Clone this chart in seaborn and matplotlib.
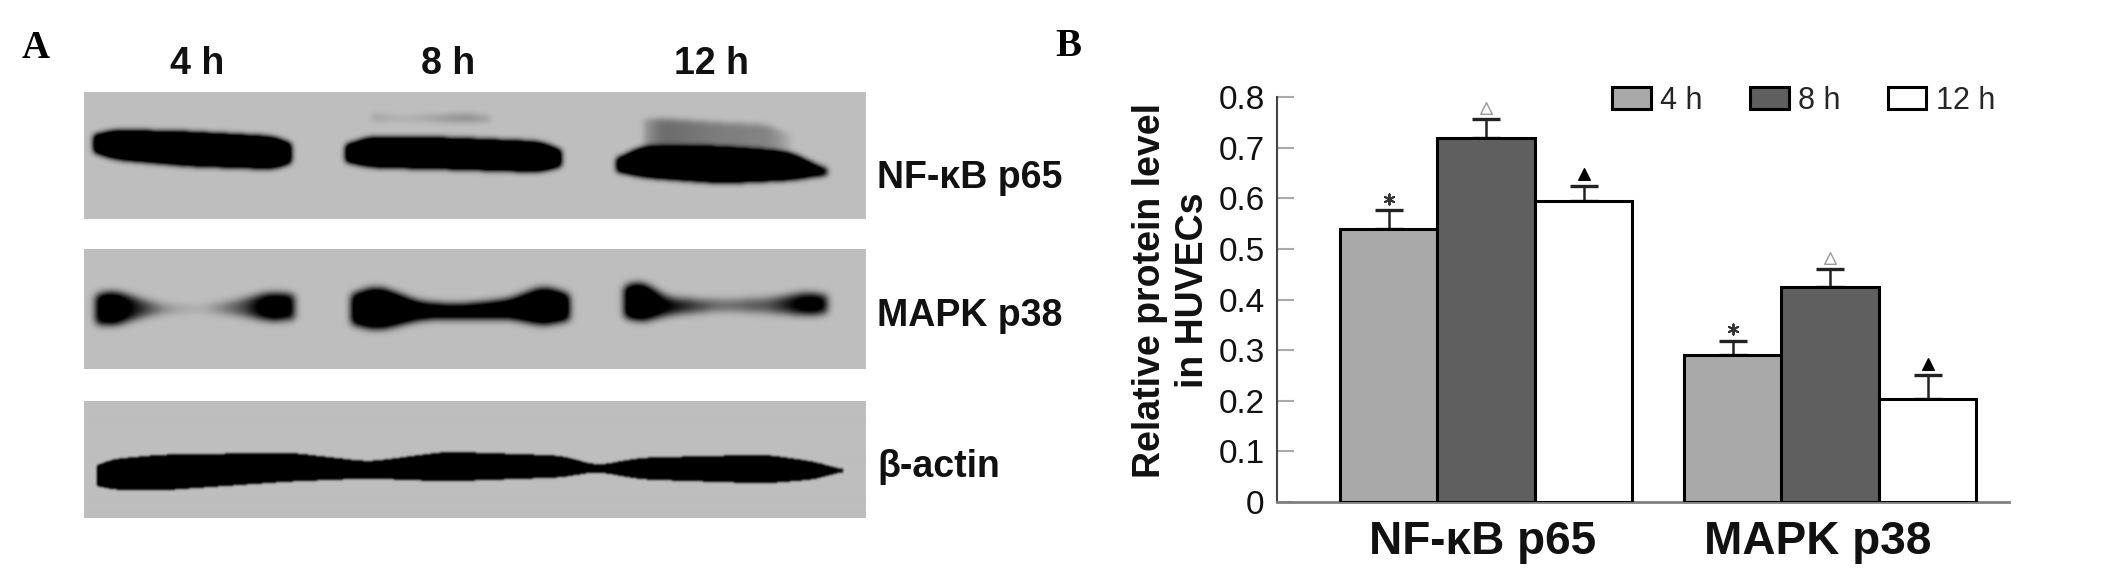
import numpy as np
import pandas as pd
import matplotlib
matplotlib.use("Agg")
import matplotlib.pyplot as plt
from matplotlib.transforms import ScaledTranslation
import seaborn as sns

# ---------- bar chart data ----------
proteins = ["NF-κB p65", "MAPK p38"]
times = ["4 h", "8 h", "12 h"]
level_4h = [0.54, 0.29]
level_8h = [0.72, 0.425]
level_12h = [0.595, 0.203]
err_4h = [0.036, 0.029]
err_8h = [0.036, 0.035]
err_12h = [0.03, 0.047]
bar_colors = ["#A9A9A9", "#5F5F5F", "#FFFFFF"]
yticks = [0, 0.1, 0.2, 0.3, 0.4, 0.5, 0.6, 0.7, 0.8]
ytick_labels = ["0", "0.1", "0.2", "0.3", "0.4", "0.5", "0.6", "0.7", "0.8"]

# ---------- blot data (figure pixels): x, top edge, bottom edge, darkness ----------
blot_rows = ["NF-κB p65", "MAPK p38", "β-actin"]
gel_boxes = [(84, 866, 92, 219), (84, 866, 249, 369), (84, 866, 401, 518)]
gel_blur = [3.0, 4.0, 1.2]
gel_gain = [1.7, 1.5, 1.15]
nfkb_bands = [
    ([94, 110, 190, 280, 290], [136, 130, 132, 137, 146], [150, 158, 165, 168, 160], [1, 1, 1, 1, 1]),
    ([346, 365, 450, 545, 560], [146, 137, 138, 142, 152], [160, 166, 168, 171, 164], [1, 1, 1, 1, 1]),
    ([617, 640, 720, 790, 826], [160, 146, 147, 152, 170], [170, 176, 182, 179, 174], [1, 1, 1, 1, .8]),
    ([644, 660, 720, 770, 790], [118, 118, 122, 124, 136], [146, 146, 148, 150, 150], [.1, .26, .2, .18, .04]),
    ([372, 400, 470, 490], [112, 116, 113, 116], [122, 120, 122, 122], [.08, .05, .16, .08]),
]
mapk_bands = [
    ([96, 110, 134, 165, 200, 242, 270, 293], [296, 290, 297, 305, 306, 299, 292, 295],
     [322, 326, 318, 312, 311, 315, 320, 318], [.8, 1, .6, .2, .06, .4, .9, .8]),
    ([352, 375, 420, 460, 510, 545, 568], [296, 285, 303, 305, 300, 285, 296],
     [322, 330, 318, 317, 317, 325, 318], [1, 1, 1, 1, 1, 1, 1]),
    ([625, 640, 665, 720, 770, 810, 826], [288, 279, 298, 300, 298, 292, 296],
     [315, 322, 314, 310, 312, 314, 312], [1, 1, .7, .3, .4, .85, .7]),
]
actin_bands = [
    ([97, 105, 160, 290, 368, 446, 562, 596, 640, 765, 815, 842],
     [468, 460, 455, 453, 462, 452, 456, 466, 458, 455, 462, 470],
     [484, 489, 490, 481, 478, 481, 477, 471, 479, 483, 479, 471],
     [1, 1, 1, 1, 1, 1, 1, 1, 1, 1, 1, .9]),
]
gel_bands = [nfkb_bands, mapk_bands, actin_bands]
GEL_GRAY = 0.745

# ---------- theme ----------
sns.set_theme(style="ticks")
plt.rcParams["font.family"] = ["Liberation Sans", "DejaVu Sans"]

W, H = 2128, 576
fig = plt.figure(figsize=(W / 100, H / 100), dpi=100, facecolor="white")


def fx(x):
    return x / W


def fy(y):
    return 1 - y / H


def kernel(sigma):
    r = int(3 * sigma)
    k = np.exp(-0.5 * (np.arange(-r, r + 1) / sigma) ** 2)
    return k / k.sum(), r


def smooth1d(v, sigma):
    k, r = kernel(sigma)
    return np.convolve(np.pad(v, r, mode="edge"), k, mode="valid")


def smooth(a, sigma):
    k, r = kernel(sigma)
    for axis in (0, 1):
        p = np.pad(a, [(r, r) if i == axis else (0, 0) for i in (0, 1)], mode="edge")
        a = np.apply_along_axis(lambda v: np.convolve(v, k, mode="valid"), axis, p)
    return a


# ---------- panel A ----------
for box, bands, blur, gain in zip(gel_boxes, gel_bands, gel_blur, gel_gain):
    x0, x1, y0, y1 = box
    xs = np.arange(x0, x1)
    ys = np.arange(y0, y1)
    dark = np.zeros((len(ys), len(xs)))
    for bx, top, bot, d in bands:
        t = smooth1d(np.interp(xs, bx, top), 9)
        b = smooth1d(np.interp(xs, bx, bot), 9)
        v = smooth1d(np.interp(xs, bx, d), 5)
        inside = (xs >= bx[0]) & (xs <= bx[-1])
        layer = ((ys[:, None] >= t) & (ys[:, None] <= b) & inside) * v
        dark = np.maximum(dark, layer)
    dark = smooth(dark, blur)
    dark = np.clip(dark * gain, 0, 1)
    gax = fig.add_axes([fx(x0), fy(y1), (x1 - x0) / W, (y1 - y0) / H])
    gax.imshow(GEL_GRAY * (1 - dark), cmap="gray", vmin=0, vmax=1, aspect="auto", interpolation="bilinear")
    gax.axis("off")

for label, cx in zip(times, [197, 448, 711]):
    fig.text(fx(cx), fy(64), label, ha="center", va="center", fontsize=27, fontweight="bold", color="#111111")
for label, cy in zip(blot_rows, [178, 316, 467]):
    fig.text(fx(877), fy(cy), label, ha="left", va="center", fontsize=27, fontweight="bold", color="#111111")
fig.text(fx(36), fy(48), "A", ha="center", va="center", fontsize=28, fontweight="bold",
         family="Liberation Serif", color="black")
fig.text(fx(1068), fy(47), "B", ha="center", va="center", fontsize=28, fontweight="bold",
         family="Liberation Serif", color="black")

# ---------- panel B ----------
df = pd.DataFrame({
    "protein": proteins * 3,
    "time": [t for t in times for _ in proteins],
    "level": level_4h + level_8h + level_12h,
})
ax = fig.add_axes([fx(1277), fy(502), (2009 - 1277) / W, (502 - 97) / H])
sns.barplot(data=df, x="protein", y="level", hue="time", order=proteins, hue_order=times,
            palette=bar_colors, saturation=1, width=0.85, gap=0, edgecolor="black",
            linewidth=2.2, ax=ax, zorder=3)

errors = [err_4h, err_8h, err_12h]
means = [level_4h, level_8h, level_12h]
marker_styles = [
    dict(marker=(6, 2, 0), s=55, color="#333333", linewidths=1.4),
    dict(marker="^", s=70, facecolors="white", edgecolors="#999999", linewidths=1.0),
    dict(marker="^", s=70, color="black"),
]
for cont, m, e, style in zip(ax.containers, means, errors, marker_styles):
    xc = [p.get_x() + p.get_width() / 2 for p in cont.patches]
    ax.errorbar(xc, m, yerr=[np.zeros(len(e)), e], fmt="none", ecolor="#222222",
                elinewidth=1.8, capsize=10, capthick=2.4, zorder=2)
    tops = np.array(m) + np.array(e) + 0.022
    ax.scatter(xc, tops, zorder=4, clip_on=False, **style)

ax.set_xlim(-0.608, 1.52)
ax.set_ylim(0, 0.8)
ax.set_yticks(yticks)
ax.set_yticklabels(ytick_labels)
ax.tick_params(axis="y", direction="in", length=12, width=1.5, color="#AAAAAA",
               labelsize=24, pad=9, labelcolor="#111111")
ax.tick_params(axis="x", length=0, labelsize=33, pad=13, labelcolor="#111111")
for lab, dx in zip(ax.get_xticklabels(), [-4, -12]):
    lab.set_fontweight("bold")
    lab.set_transform(lab.get_transform() + ScaledTranslation(dx / 100, 0, fig.dpi_scale_trans))
ax.set_xlabel("")
ax.set_ylabel("Relative protein level\nin HUVECs", fontsize=27, fontweight="bold",
              color="#111111", labelpad=5, linespacing=1.25, y=0.523)
sns.despine(ax=ax)
ax.spines["left"].set_color("#444444")
ax.spines["left"].set_linewidth(1.5)
ax.spines["bottom"].set_color("#808080")
ax.spines["bottom"].set_linewidth(2)

handles, labels = ax.get_legend_handles_labels()
leg = ax.legend(handles, labels, ncol=3, frameon=False, fontsize=22, handlelength=1.27,
                handleheight=0.72, handletextpad=0.3, columnspacing=1.55, borderaxespad=0,
                borderpad=0, loc="upper right", bbox_to_anchor=((1995 - 1277) / 732, 1.027))
for h in leg.get_patches():
    h.set_edgecolor("black")
    h.set_linewidth(2.2)

fig.savefig("out.png", dpi=100, facecolor="white")
